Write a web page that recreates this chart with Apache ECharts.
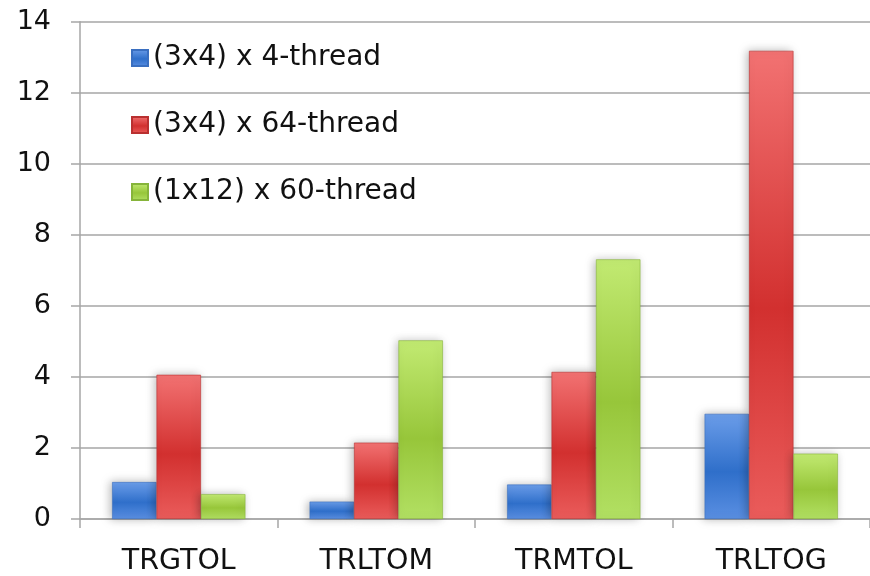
<!DOCTYPE html>
<html>
<head>
<meta charset="utf-8">
<script src="https://cdn.jsdelivr.net/npm/echarts@6/dist/echarts.min.js"></script>
<style>
  html, body { margin: 0; padding: 0; background: #fff; }
  #chart { width: 870px; height: 576px; }
</style>
</head>
<body>
<div id="chart"></div>
<script>
// Benchmarks on the category axis
const categories = ['TRGTOL', 'TRLTOM', 'TRMTOL', 'TRLTOG'];

// Series names and values
const seriesNames = ['(3x4) x 4-thread', '(3x4) x 64-thread', '(1x12) x 60-thread'];
const values4Thread = [1.04, 0.49, 0.97, 2.96];
const values64Thread = [4.06, 2.15, 4.14, 13.18];
const values60Thread = [0.70, 5.03, 7.31, 1.84];

// Value axis ticks
const yTicks = [0, 2, 4, 6, 8, 10, 12, 14];

// Glossy vertical gradients: light top, deep middle, light bottom
function gloss(top, mid, bottom) {
  return new echarts.graphic.LinearGradient(0, 0, 0, 1, [
    { offset: 0, color: top },
    { offset: 0.55, color: mid },
    { offset: 1, color: bottom }
  ]);
}
const palettes = [
  ['#6b9de9', '#2f6fca', '#5a8fe2', '#3a6fc0'],
  ['#f27272', '#d2302f', '#ea5c5b', '#b93030'],
  ['#c2ea72', '#97c63a', '#b2e063', '#86b43a']
];

const seriesData = [values4Thread, values64Thread, values60Thread];

const chart = echarts.init(document.getElementById('chart'), null, { renderer: 'canvas' });

chart.setOption({
  animation: false,
  backgroundColor: '#ffffff',
  textStyle: { fontFamily: 'DejaVu Sans' },
  grid: { left: 80, right: -4, top: 21.7, bottom: 56.7, containLabel: false },
  legend: {
    orient: 'vertical',
    left: 126,
    top: 38,
    itemWidth: 16,
    itemHeight: 16,
    itemGap: 37,
    icon: 'rect',
    textStyle: { fontSize: 28, color: '#111', lineHeight: 30 },
    data: seriesNames
  },
  xAxis: {
    type: 'category',
    data: categories,
    axisLine: { lineStyle: { color: '#a6a6a6', width: 1.5 } },
    axisTick: { show: true, length: 9, lineStyle: { color: '#a6a6a6', width: 1.5 } },
    axisLabel: { fontSize: 28.5, color: '#111', margin: 28 },
    splitLine: { show: false }
  },
  yAxis: {
    type: 'value',
    min: yTicks[0],
    max: yTicks[yTicks.length - 1],
    interval: 2,
    axisLine: { show: true, lineStyle: { color: '#a6a6a6', width: 1.5 } },
    axisTick: { show: true, length: 9, lineStyle: { color: '#a6a6a6', width: 1.5 } },
    axisLabel: { fontSize: 27, color: '#111', margin: 29 },
    splitLine: { lineStyle: { color: '#a6a6a6', width: 1.5 } }
  },
  series: seriesNames.map((name, i) => ({
    name: name,
    type: 'bar',
    data: seriesData[i],
    barGap: '0%',
    barCategoryGap: '32.5%',
    itemStyle: {
      color: gloss(palettes[i][0], palettes[i][1], palettes[i][2]),
      borderColor: palettes[i][3],
      borderWidth: 0.6,
      shadowColor: 'rgba(0,0,0,0.28)',
      shadowBlur: 9,
      shadowOffsetX: -2,
      shadowOffsetY: 0
    },
    emphasis: { disabled: true }
  }))
});
</script>
</body>
</html>
